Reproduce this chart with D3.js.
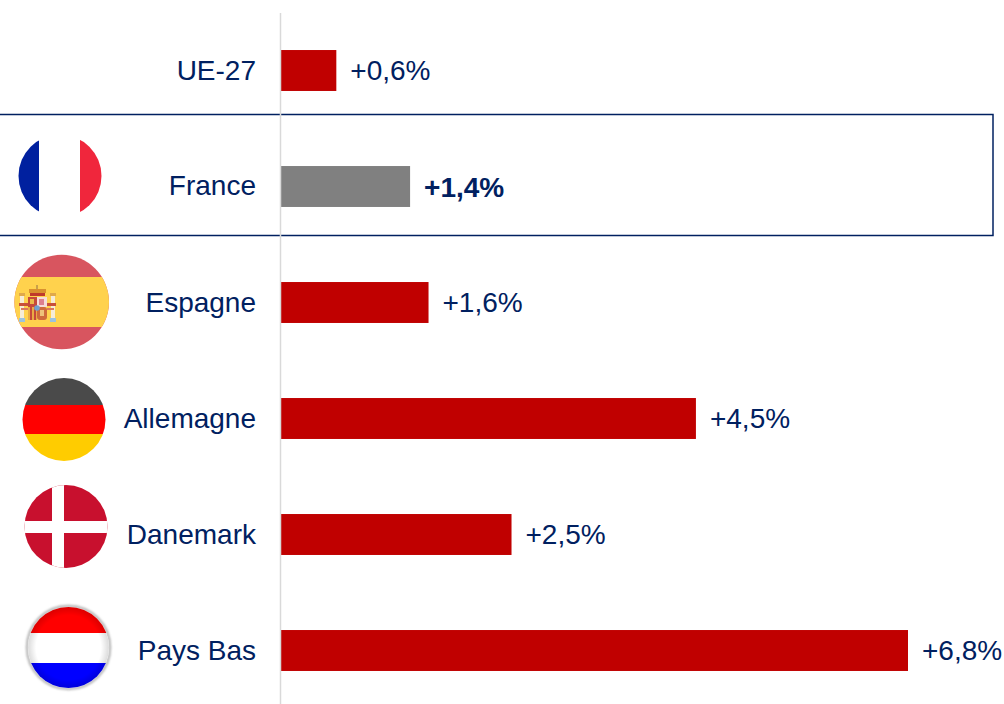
<!DOCTYPE html>
<html lang="fr">
  <head>
    <meta charset="utf-8">
    <title>Évolution par pays</title>
    <script src="https://d3js.org/d3.v7.min.js"></script>
    <style>
      html, body { margin: 0; padding: 0; background: #fff; overflow: hidden; }
      svg { display: block; }
      text { font-family: "Liberation Sans", Arial, sans-serif; font-size: 28px; fill: #002060; }
    </style>
  </head>
  <body>
    <div id="graphique"></div>
    <script>
      const pays = ['UE-27', 'France', 'Espagne', 'Allemagne', 'Danemark', 'Pays Bas']
      const valeurs = [0.6, 1.4, 1.6, 4.5, 2.5, 6.8]
      const etiquettes = ['+0,6%', '+1,4%', '+1,6%', '+4,5%', '+2,5%', '+6,8%']

      const largeur = 1004, hauteur = 704
      const marine = '#002060', rouge = '#c00000', gris = '#808080'

      const svg = d3.select('#graphique').append('svg')
        .attr('width', largeur)
        .attr('height', hauteur)

      const x = d3.scaleLinear().domain([0, 6.8]).range([281, 908])
      const y = d3.scaleBand()
        .domain(pays)
        .range([12.5, 708.5])
        .paddingInner(0.647)
        .paddingOuter(0.3235)

      // cadre autour de la France
      svg.append('rect')
        .attr('x', -5).attr('y', 114.5)
        .attr('width', 998).attr('height', 121)
        .attr('fill', 'none')
        .attr('stroke', marine)
        .attr('stroke-width', 1.5)

      // barres
      svg.append('g').selectAll('rect')
        .data(pays)
        .join('rect')
          .attr('x', x(0))
          .attr('y', d => y(d))
          .attr('width', (d, i) => x(valeurs[i]) - x(0))
          .attr('height', y.bandwidth())
          .attr('fill', d => d === 'France' ? gris : rouge)

      // axe des pays
      const axe = svg.append('g')
        .attr('transform', 'translate(280,0)')
        .call(d3.axisLeft(y).tickSize(0).tickPadding(24))
      axe.select('.domain').attr('stroke', '#d9d9d9').attr('stroke-width', 1.5)
      axe.selectAll('text')
        .attr('y', d => d === 'France' ? -1.5 : 0)
        .attr('dy', '0.34em')
        .style('font-size', '28px')
      axe.attr('font-size', null).attr('font-family', null)

      // valeurs
      svg.append('g').selectAll('text')
        .data(pays)
        .join('text')
          .attr('x', (d, i) => x(valeurs[i]) + 14)
          .attr('y', d => y(d) + y.bandwidth() / 2 + (d === 'France' ? 1 : 0))
          .attr('dy', '0.34em')
          .attr('font-weight', d => d === 'France' ? 'bold' : null)
          .text((d, i) => etiquettes[i])

      // drapeaux
      const defs = svg.append('defs')

      defs.append('filter').attr('id', 'flou')
        .attr('x', '-20%').attr('y', '-20%').attr('width', '140%').attr('height', '140%')
        .append('feGaussianBlur').attr('stdDeviation', 1)

      const brillance = defs.append('radialGradient').attr('id', 'brillance')
      brillance.append('stop').attr('offset', '0.8').attr('stop-color', '#000').attr('stop-opacity', 0)
      brillance.append('stop').attr('offset', '1').attr('stop-color', '#000').attr('stop-opacity', 0.14)

      function drapeau(id, cx, cy, r) {
        defs.append('clipPath').attr('id', id)
          .append('circle').attr('cx', cx).attr('cy', cy).attr('r', r)
        return svg.append('g').attr('clip-path', `url(#${id})`)
      }
      function bande(g, bx, by, w, h, couleur) {
        return g.append('rect').attr('x', bx).attr('y', by)
          .attr('width', w).attr('height', h).attr('fill', couleur)
      }

      // France
      const fr = drapeau('fr', 60, 176, 41.5)
      bande(fr, 18, 134, 21, 84, '#00209f')
      bande(fr, 80, 134, 22, 84, '#f0263c')

      // Espagne
      const es = drapeau('es', 61.7, 302, 47.3)
      bande(es, 14, 254, 96, 96, '#d8555f')
      bande(es, 14, 277, 96, 50, '#ffd24d')
      // armoiries : colonnes
      bande(es, 20, 295, 4, 23, '#f6ecd6')
      bande(es, 51, 295, 4, 23, '#f6ecd6')
      bande(es, 19, 293, 6, 3, '#e0a94a')
      bande(es, 50, 293, 6, 3, '#e0a94a')
      bande(es, 19, 318, 6, 4, '#9cc3dd')
      bande(es, 50, 318, 6, 4, '#9cc3dd')
      bande(es, 19, 303, 9, 3, '#c9503a')
      bande(es, 47, 303, 9, 3, '#c9503a')
      bande(es, 21, 308, 7, 2, '#d9785f')
      bande(es, 47, 308, 7, 2, '#d9785f')
      // couronne
      bande(es, 29, 289, 17, 4, '#d9902f')
      bande(es, 30, 293, 15, 3, '#c0392b')
      bande(es, 36, 285, 2, 4, '#c9a04a')
      // écu
      bande(es, 28, 297, 9, 10, '#c5493a')
      bande(es, 30, 299, 4, 5, '#eab84a')
      bande(es, 37, 297, 10, 10, '#f6dcd8')
      bande(es, 39, 299, 5, 6, '#dd7f8e')
      bande(es, 28, 307, 9, 13, '#e9ab44')
      bande(es, 30, 307, 2, 13, '#c5493a')
      bande(es, 34, 307, 2, 13, '#c5493a')
      es.append('rect').attr('x', 37).attr('y', 307).attr('width', 10).attr('height', 13)
        .attr('rx', 3).attr('fill', '#cf6a3c')
      bande(es, 40, 310, 4, 6, '#eec27a')
      es.append('circle').attr('cx', 37).attr('cy', 308).attr('r', 2.8).attr('fill', '#6f9fd0')

      // Allemagne
      const de = drapeau('de', 64, 419.5, 41.5)
      bande(de, 22, 378, 84, 27, '#4a4a4a')
      bande(de, 22, 405, 84, 29, '#ff0000')
      bande(de, 22, 434, 84, 28, '#ffcc00')

      // Danemark
      const dk = drapeau('dk', 66, 526.5, 41.5)
      bande(dk, 24, 485, 84, 84, '#c8102e')
      bande(dk, 52, 485, 12, 84, '#ffffff')
      bande(dk, 24, 521, 84, 12, '#ffffff')

      // Pays-Bas
      svg.append('circle')
        .attr('cx', 68.5).attr('cy', 647.5).attr('r', 41.5)
        .attr('fill', 'none').attr('stroke', '#b5b5b5').attr('stroke-width', 2.5)
        .attr('filter', 'url(#flou)')
      const nl = drapeau('nl', 68.5, 647.5, 40.5)
      bande(nl, 27, 606, 84, 27, '#ff0000')
      bande(nl, 27, 633, 84, 30, '#ffffff')
      bande(nl, 27, 663, 84, 27, '#0000ff')
      nl.append('circle').attr('cx', 68.5).attr('cy', 647.5).attr('r', 40.5)
        .attr('fill', 'url(#brillance)')
    </script>
  </body>
</html>
